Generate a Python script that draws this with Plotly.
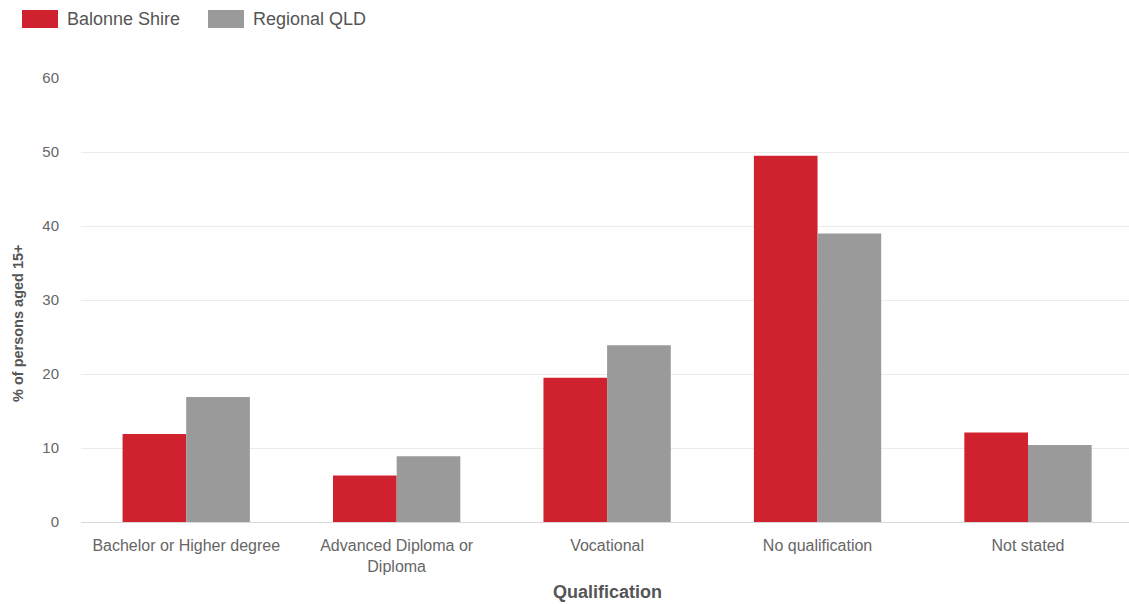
import plotly.graph_objects as go

categories = ["Bachelor or Higher degree", "Advanced Diploma or<br>Diploma", "Vocational",
              "No qualification", "Not stated"]
balonne = [11.9, 6.3, 19.5, 49.5, 12.1]
regional = [16.9, 8.9, 23.9, 39.0, 10.4]
series_names = ["Balonne Shire", "Regional QLD"]
series_colors = ["#d0222e", "#9a9a9a"]
y_ticks = [0, 10, 20, 30, 40, 50, 60]

W, H = 1129, 604
ML, MR, MT, MB = 81, 0, 78, 82
PW, PH = W - ML - MR, H - MT - MB


def px_x(x):
    return (x - ML) / PW


def px_y(y):
    return (H - MB - y) / PH


fig = go.Figure()
for name, vals, col in zip(series_names, [balonne, regional], series_colors):
    fig.add_trace(go.Bar(x=categories, y=vals, name=name, marker_color=col,
                         marker_line_width=0, showlegend=False))

font_family = "Liberation Sans, Arial, sans-serif"
fig.update_layout(
    width=W, height=H,
    margin=dict(l=ML, r=MR, t=MT, b=MB, pad=0),
    paper_bgcolor="white", plot_bgcolor="white",
    barmode="group", bargap=0.395, bargroupgap=0,
    font=dict(family=font_family, color="#666666", size=13),
)
fig.update_xaxes(type="category", range=[-0.5, 4.48], showgrid=False, showline=False,
                 ticks="", ticklabelstandoff=12,
                 tickfont=dict(size=16, color="#666666"), zeroline=False)
fig.update_yaxes(range=[0, 60], tickvals=y_ticks, showgrid=True, gridcolor="#ebebeb",
                 gridwidth=1, zeroline=True, zerolinecolor="#d8d8d8", zerolinewidth=1,
                 showline=False, ticks="", ticklabelstandoff=21,
                 tickfont=dict(size=15, color="#666666"))

# axis titles
fig.add_annotation(text="<b>Qualification</b>", xref="paper", yref="paper",
                   x=px_x(607), y=px_y(592), xanchor="center", yanchor="middle",
                   showarrow=False, font=dict(size=18, color="#555555", family=font_family))
fig.add_annotation(text="<b>% of persons aged 15+</b>", xref="paper", yref="paper",
                   x=px_x(18), y=px_y(323), xanchor="center", yanchor="middle",
                   textangle=-90, showarrow=False,
                   font=dict(size=14.5, color="#555555", family=font_family))

# legend
legend_boxes = [(22, 58), (208, 244)]
for (x0, x1), name, col in zip(legend_boxes, series_names, series_colors):
    fig.add_shape(type="rect", xref="paper", yref="paper",
                  x0=px_x(x0), x1=px_x(x1), y0=px_y(28), y1=px_y(10),
                  fillcolor=col, line_width=0)
    fig.add_annotation(text=name, xref="paper", yref="paper",
                       x=px_x(x1 + 7), y=px_y(19), xanchor="left", yanchor="middle",
                       showarrow=False, font=dict(size=18, color="#555555", family=font_family))

fig.write_html("out.html")
